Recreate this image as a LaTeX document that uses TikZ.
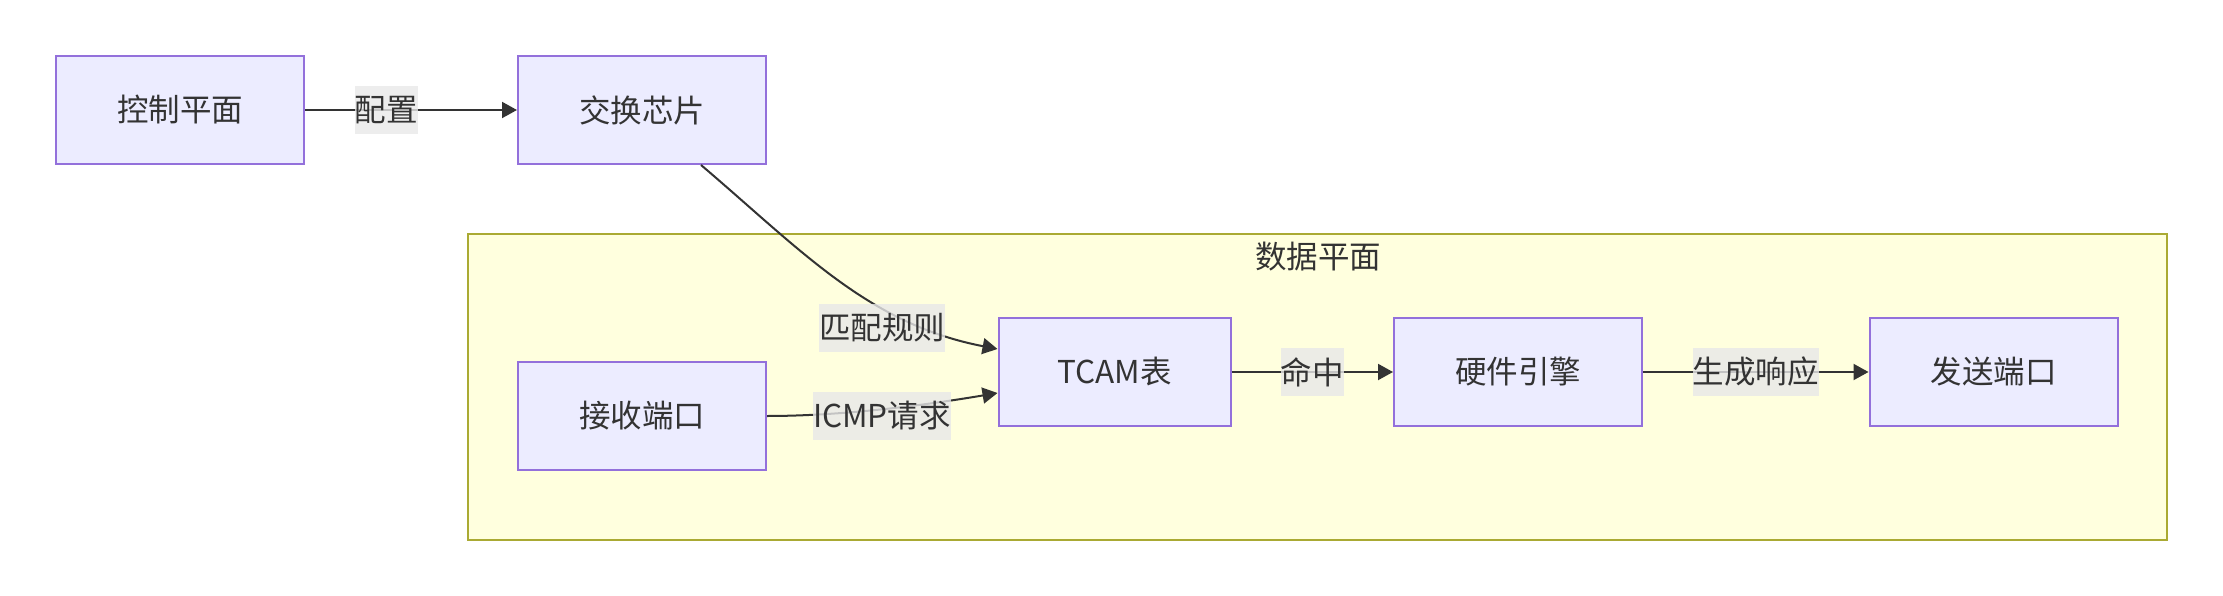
\documentclass[tikz,border=0pt]{standalone}
\usepackage{fontspec}
\setmainfont{Noto Sans CJK SC}
\usetikzlibrary{arrows.meta}
\definecolor{boxfill}{HTML}{ECECFF}
\definecolor{boxline}{HTML}{9370DB}
\definecolor{zonefill}{HTML}{FFFFDE}
\definecolor{zoneline}{HTML}{AAAA33}
\definecolor{ink}{HTML}{333333}
\definecolor{tagfill}{HTML}{E8E8E8}
\begin{document}
\begin{tikzpicture}[x=1pt,y=-1pt,
  every node/.style={font=\fontsize{31.5}{38}\selectfont, text=ink},
  block/.style={draw=boxline, fill=boxfill, line width=2pt, minimum width=248pt, minimum height=108pt, inner sep=0pt},
  zone/.style={draw=zoneline, fill=zonefill, line width=2pt, inner sep=0pt},
  tag/.style={fill=tagfill, fill opacity=0.8, text opacity=1, inner xsep=0pt, inner ysep=0pt, minimum height=48pt},
  link/.style={draw=ink, line width=2pt, -{Triangle[length=15pt,width=16pt]}}
]
\useasboundingbox (0,0) rectangle (2223,596);

% data-plane group
\node[zone, minimum width=1699pt, minimum height=306pt] (dp) at (1317.5,387) {};
\node (dptitle) at (1318,257) {数据平面};

% blocks
\node[block] (ctl) at (180,110) {控制平面};
\node[block] (sw) at (642,110) {交换芯片};
\node[block] (rx) at (642,416) {接收端口};
\node[block, minimum width=232pt] (tcam) at (1114.5,372) {TCAM表};
\node[block] (hw) at (1518,372) {硬件引擎};
\node[block] (tx) at (1993.5,372) {发送端口};

% connectors
\draw[link] (ctl) -- (sw);
\draw[link] ([xshift=59pt]sw.south) .. controls (801,250) and (868,324) .. ([yshift=23pt]tcam.west);
\draw[link] (rx.east) .. controls (850,416) and (938,403) .. ([yshift=-21pt]tcam.west);
\draw[link] (tcam) -- (hw);
\draw[link] (hw) -- (tx);

% connector labels
\node[tag] (t1) at (386,110) {配置};
\node[tag] (t2) at (882,328) {匹配规则};
\node[tag] (t3) at (882,416) {ICMP请求};
\node[tag] (t4) at (1312,372) {命中};
\node[tag] (t5) at (1755.5,372) {生成响应};
\end{tikzpicture}
\end{document}
